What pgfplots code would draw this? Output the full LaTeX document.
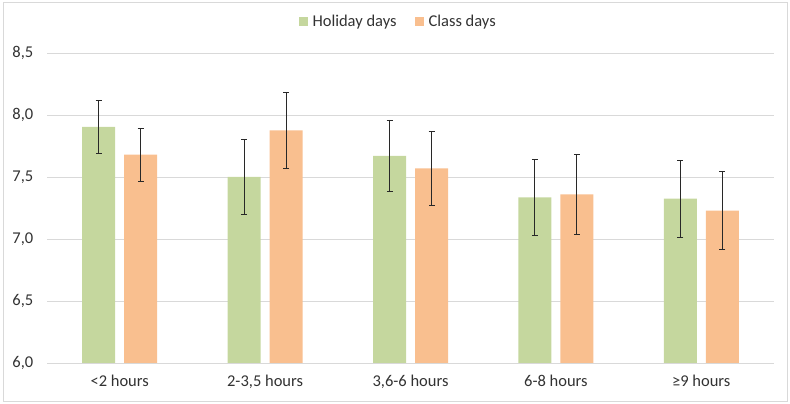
\documentclass[border=0pt]{standalone}
\usepackage{pgfplots}
\pgfplotsset{compat=1.18}
\usepackage{fontspec}
\setmainfont{Carlito}
\definecolor{hgreen}{RGB}{197,215,158}
\definecolor{corange}{RGB}{249,191,143}
\definecolor{gridgray}{RGB}{217,217,217}
\definecolor{errgray}{RGB}{40,40,40}
\definecolor{txt}{RGB}{50,50,50}
\begin{document}
\fontsize{16.5bp}{19bp}\selectfont
\begin{tikzpicture}
\useasboundingbox (-47bp,-41bp) rectangle (743bp,363bp);
\draw[gridgray, line width=0.8bp] (-44bp,-38bp) rectangle (740bp,361bp);
\begin{axis}[
  scale only axis,
  width=727bp, height=310bp,
  ybar=9bp, bar width=33bp,
  xmin=-0.5, xmax=4.5,
  ymin=6, ymax=8.5,
  ytick={6,6.5,7,7.5,8,8.5},
  xtick=data,
  xticklabels={{<2 hours},{2-3,5 hours},{3,6-6 hours},{6-8 hours},{≥9 hours}},
  ymajorgrids, grid style={gridgray, line width=0.8bp},
  axis line style={draw=none},
  tick style={draw=none},
  ticklabel style={font=\fontsize{16.5bp}{19bp}\selectfont, text=txt},
  xticklabel style={yshift=-2bp},
  yticklabel style={xshift=-8bp},
  /pgf/number format/use comma,
  /pgf/number format/fixed,
  /pgf/number format/fixed zerofill,
  /pgf/number format/precision=1,
  /pgf/number format/assume math mode=true,
  legend style={at={(0.483,1.1)}, anchor=center, draw=none, fill=none,
    legend columns=2, font=\fontsize{16.5bp}{19bp}\selectfont, text=txt,
    /tikz/every even column/.append style={column sep=16bp}},
  legend image code/.code={\fill[#1] (0bp,-4.5bp) rectangle (9bp,4.5bp); \path (12bp,0bp);},
  error bars/error bar style={errgray, line width=0.9bp},
  error bars/error mark options={rotate=90, mark size=3bp, errgray, line width=0.9bp},
]
\addplot[fill=hgreen, draw=none,
  error bars/.cd, y dir=both, y explicit]
  coordinates {
    (0,7.905) +- (0,0.215)
    (1,7.50) +- (0,0.305)
    (2,7.67) +- (0,0.29)
    (3,7.335) +- (0,0.305)
    (4,7.325) +- (0,0.31)
  };
\addplot[fill=corange, draw=none,
  error bars/.cd, y dir=both, y explicit]
  coordinates {
    (0,7.68) +- (0,0.215)
    (1,7.875) +- (0,0.31)
    (2,7.57) +- (0,0.30)
    (3,7.36) +- (0,0.325)
    (4,7.228) +- (0,0.315)
  };
\legend{Holiday days, Class days}
\end{axis}
\end{tikzpicture}
\end{document}
